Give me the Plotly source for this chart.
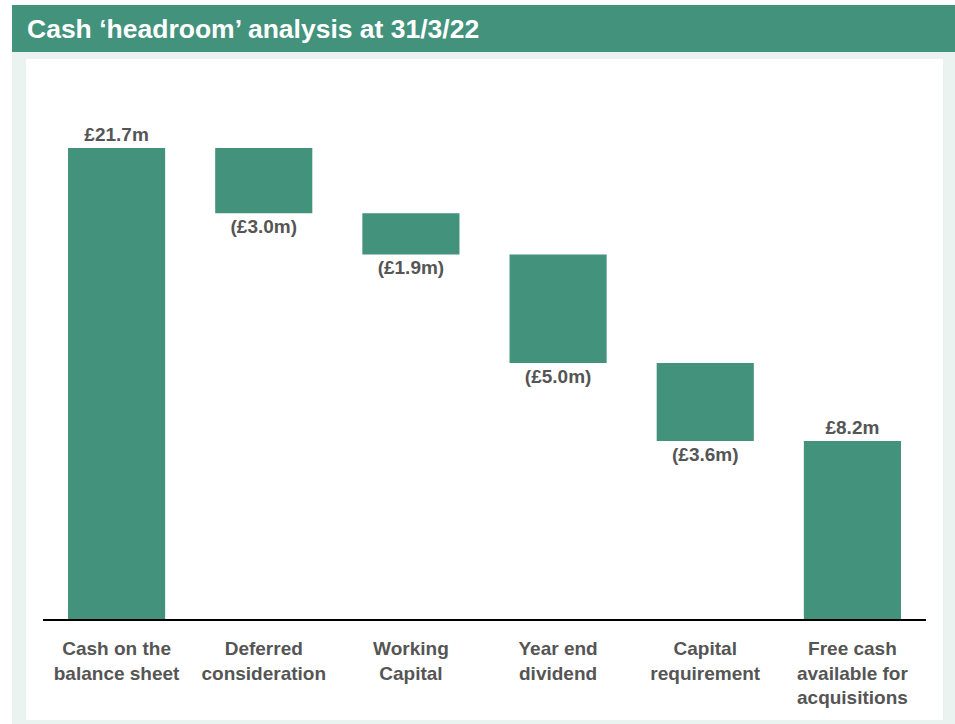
import plotly.graph_objects as go

categories = ["Cash on the<br>balance sheet", "Deferred<br>consideration", "Working<br>Capital",
              "Year end<br>dividend", "Capital<br>requirement", "Free cash<br>available for<br>acquisitions"]
measures = ["absolute", "relative", "relative", "relative", "relative", "total"]
values = [21.7, -3.0, -1.9, -5.0, -3.6, None]
labels = ["£21.7m", "(£3.0m)", "(£1.9m)", "(£5.0m)", "(£3.6m)", "£8.2m"]

GREEN = "#42927C"
LIGHT = "#EAF3F0"
TXT = "#555555"
FONT = "Liberation Sans, Arial, sans-serif"

W, H = 955, 724
L, R, T, B = 43, 29, 60, 105
pw, ph = W - L - R, H - T - B
base_y = H - B


def px(x):
    return (x - L) / pw


def py(y):
    return (base_y - y) / ph


fig = go.Figure(go.Waterfall(
    x=categories,
    measure=measures,
    y=values,
    text=labels,
    textposition="outside",
    textfont=dict(family=FONT, size=19, color=TXT, weight="bold"),
    cliponaxis=False,
    connector=dict(visible=False),
    increasing=dict(marker=dict(color=GREEN, line=dict(width=0))),
    decreasing=dict(marker=dict(color=GREEN, line=dict(width=0))),
    totals=dict(marker=dict(color=GREEN, line=dict(width=0))),
    hoverinfo="skip",
))

shapes = [
    dict(type="rect", xref="paper", yref="paper", x0=px(12), x1=px(955), y0=py(724), y1=py(52),
         fillcolor=LIGHT, line=dict(width=0), layer="below"),
    dict(type="rect", xref="paper", yref="paper", x0=px(26), x1=px(943), y0=py(720), y1=py(59),
         fillcolor="white", line=dict(width=0), layer="below"),
    dict(type="rect", xref="paper", yref="paper", x0=px(12), x1=px(955), y0=py(52), y1=py(5),
         fillcolor=GREEN, line=dict(width=0), layer="below"),
]

fig.update_layout(
    width=W, height=H,
    margin=dict(l=L, r=R, t=T, b=B),
    paper_bgcolor="white",
    plot_bgcolor="rgba(0,0,0,0)",
    showlegend=False,
    waterfallgap=0.34,
    shapes=shapes,
    font=dict(family=FONT),
    xaxis=dict(
        showgrid=False, zeroline=False, showline=True, linecolor="black", linewidth=2,
        ticks="", tickfont=dict(family=FONT, size=19, color=TXT, weight="bold"), fixedrange=True,
        range=[-0.5, 5.5], ticklabelstandoff=11,
    ),
    yaxis=dict(
        range=[0, ph / 21.7], visible=False, showgrid=False, zeroline=False, fixedrange=True,
    ),
    annotations=[
        dict(text="<b>Cash ‘headroom’ analysis at 31/3/22</b>", xref="paper", yref="paper",
             x=px(25), y=py(29), xanchor="left", yanchor="middle", showarrow=False,
             font=dict(family=FONT, size=26.5, color="white")),
    ],
)

fig.write_html("out.html")
